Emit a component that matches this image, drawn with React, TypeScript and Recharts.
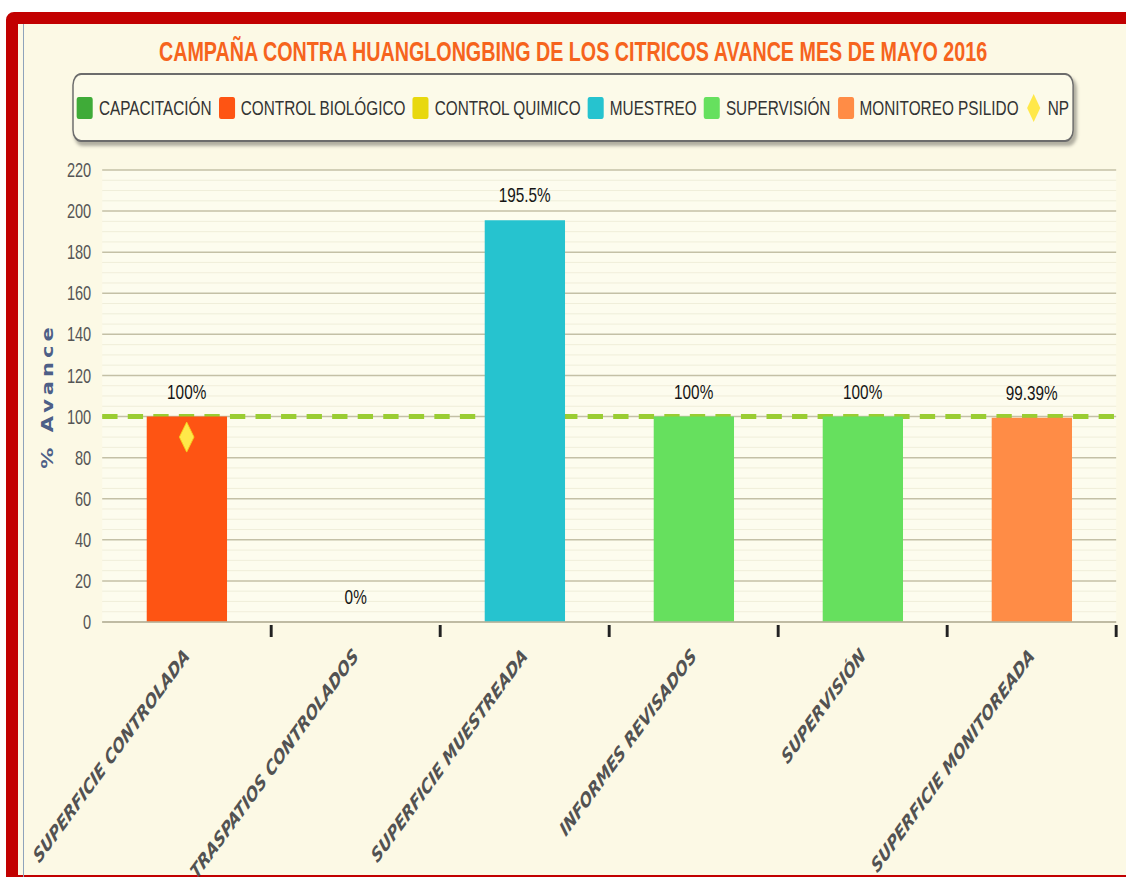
import React from "react";
import {
  ComposedChart,
  Bar,
  Line,
  XAxis,
  YAxis,
  CartesianGrid,
  ReferenceArea,
  LabelList,
  Legend,
  Cell,
} from "recharts";

// --- data ---
const categories = [
  "SUPERFICIE CONTROLADA",
  "TRASPATIOS CONTROLADOS",
  "SUPERFICIE MUESTREADA",
  "INFORMES REVISADOS",
  "SUPERVISIÓN",
  "SUPERFICIE MONITOREADA",
];
const avance = [100, 0, 195.5, 100, 100, 99.39];
const npValues = [90, null, null, null, null, null];
const barColors = ["#fe5413", "#e8d80e", "#26c3cf", "#66e05e", "#66e05e", "#ff8c46"];

const legendNames = [
  "CAPACITACIÓN",
  "CONTROL BIOLÓGICO",
  "CONTROL QUIMICO",
  "MUESTREO",
  "SUPERVISIÓN",
  "MONITOREO PSILIDO",
  "NP",
];
const legendColors = ["#3fab38", "#fe5413", "#e8d80e", "#26c3cf", "#66e05e", "#ff8c46", "#ffe84a"];

const yTicks = [0, 20, 40, 60, 80, 100, 120, 140, 160, 180, 200, 220];
const minorTicks = [
  5, 10, 15, 25, 30, 35, 45, 50, 55, 65, 70, 75, 85, 90, 95, 105, 110, 115,
  125, 130, 135, 145, 150, 155, 165, 170, 175, 185, 190, 195, 205, 210, 215,
];
const metaTicks = [100];
const yMax = 220;

const data = categories.map((name, i) => ({ name, avance: avance[i], np: npValues[i] }));

// the screenshot is squeezed horizontally, so draw wide and squeeze it back
const SQUEEZE = 0.73;
const W = 1543;
const H = 877;

const sans = '"Liberation Sans", Arial, sans-serif';
const verdana = '"DejaVu Sans", Verdana, sans-serif';

// grid rows at chosen values, placed through the y axis scale
const rowsAt = (values: number[]) => ({ yAxis, offset }: any) =>
  values.map((v) =>
    yAxis && typeof yAxis.scale === "function"
      ? yAxis.scale(v)
      : offset.top + offset.height * (1 - v / yMax)
  );

function CategoryTick({ x, y, payload, width, visibleTicksCount }: any) {
  // tick mark on the right edge of each category band
  const edge = x + width / visibleTicksCount / 2;
  const ax = x + 5;
  const ay = y + 35;
  return (
    <g>
      <line x1={edge} x2={edge} y1={y + 3} y2={y + 15} stroke="#222" strokeWidth={4} />
      <text
        x={ax}
        y={ay}
        transform={`rotate(-45, ${ax}, ${ay})`}
        textAnchor="end"
        fill="#525252"
        fontFamily={verdana}
        fontSize={20}
        fontWeight="bold"
        fontStyle="italic"
      >
        {payload.value}
      </text>
    </g>
  );
}

function Diamond({ cx, cy, payload, index }: any) {
  if (payload == null || payload.np == null) return <g key={`np-${index}`} />;
  return (
    <polygon
      key={`np-${index}`}
      points={`${cx},${cy - 15} ${cx + 10},${cy} ${cx},${cy + 15} ${cx - 10},${cy}`}
      fill="#ffe84a"
      stroke="#f3d21a"
      strokeWidth={1}
    />
  );
}

function LegendBox() {
  return (
    <div
      style={{
        boxSizing: "border-box",
        width: "100%",
        height: "100%",
        border: "2px solid #6c6c6c",
        borderRadius: 12,
        background: "#fcfae9",
        boxShadow: "3px 4px 4px rgba(0,0,0,0.3)",
        display: "flex",
        alignItems: "center",
        justifyContent: "center",
        fontFamily: sans,
        fontSize: 21,
        color: "#333",
        whiteSpace: "nowrap",
      }}
    >
      {legendNames.map((n, i) => (
        <span
          key={n}
          style={{ display: "inline-flex", alignItems: "center", marginRight: i < legendNames.length - 1 ? 10 : 0 }}
        >
          {n === "NP" ? (
            <svg width={22} height={30}>
              <polygon points="11,1 20,15 11,29 2,15" fill={legendColors[i]} />
            </svg>
          ) : (
            <span style={{ display: "inline-block", width: 22, height: 22, borderRadius: 3, background: legendColors[i] }} />
          )}
          <span style={{ marginLeft: 8 }}>{n}</span>
        </span>
      ))}
    </div>
  );
}

export default function App() {
  return (
    <div style={{ position: "absolute", left: 0, top: 0, width: 1126, height: 877, overflow: "hidden", background: "#fff" }}>
      {/* red frame */}
      <div
        style={{
          position: "absolute",
          left: 6,
          top: 12,
          width: 1140,
          height: 875,
          boxSizing: "border-box",
          border: "12px solid #c20000",
          borderRadius: 8,
          background: "#fcf9e5",
        }}
      />
      <div style={{ position: "absolute", left: 23, top: 24, width: 1, height: 853, background: "#8fa3bb" }} />

      <div
        style={{
          position: "absolute",
          left: 0,
          top: 0,
          width: W,
          height: H,
          transform: `scaleX(${SQUEEZE})`,
          transformOrigin: "0 0",
        }}
      >
        <div
          style={{
            position: "absolute",
            left: 0,
            top: 39,
            width: 1570,
            textAlign: "center",
            fontFamily: sans,
            fontWeight: "bold",
            fontSize: 27,
            lineHeight: "27px",
            color: "#f6641d",
            whiteSpace: "nowrap",
          }}
        >
          CAMPAÑA CONTRA HUANGLONGBING DE LOS CITRICOS AVANCE MES DE MAYO 2016
        </div>

        <ComposedChart width={W} height={H} data={data} margin={{ top: 170, right: 14, bottom: 55, left: 65 }}>
          <CartesianGrid
            vertical={false}
            stroke="#eeebd7"
            fill="#fdfcee"
            horizontalCoordinatesGenerator={rowsAt(minorTicks)}
          />
          <CartesianGrid vertical={false} stroke="#c4c0a6" strokeWidth={1.5} />
          {/* 100% goal line, kept under the bars */}
          <CartesianGrid
            vertical={false}
            stroke="#9acd32"
            strokeWidth={5}
            strokeDasharray="21 14"
            horizontalCoordinatesGenerator={rowsAt(metaTicks)}
          />
          <XAxis xAxisId="edges" type="number" domain={[0, 6]} allowDataOverflow hide />
          <XAxis
            dataKey="name"
            interval={0}
            axisLine={{ stroke: "#b8b49c", strokeWidth: 1.5 }}
            tickLine={false}
            tickSize={0}
            tickMargin={0}
            height={200}
            tick={<CategoryTick />}
          />
          <YAxis
            domain={[0, yMax]}
            ticks={yTicks}
            axisLine={false}
            tickLine={false}
            width={75}
            tickMargin={9}
            tick={{ fill: "#555", fontSize: 20, fontFamily: sans }}
            label={{
              value: "% Avance",
              angle: -90,
              position: "insideLeft",
              offset: 0,
              textAnchor: "middle",
              fill: "#4d5f87",
              fontSize: 21,
              fontWeight: "bold",
              letterSpacing: 4,
              fontFamily: verdana,
            }}
          />
          <ReferenceArea
            xAxisId="edges"
            x1={0}
            x2={6}
            y1={0}
            y2={yMax}
            fill="none"
            stroke="#bcb8a0"
            strokeWidth={1.5}
          />
          <Legend
            verticalAlign="middle"
            align="center"
            layout="horizontal"
            wrapperStyle={{ top: 73, left: 99, width: 1372, height: 69 }}
            content={() => <LegendBox />}
          />
          <Bar dataKey="avance" barSize={110} isAnimationActive={false}>
            {data.map((d, i) => (
              <Cell key={d.name} fill={barColors[i]} />
            ))}
          </Bar>
          {/* value labels (also for the 0% bar) */}
          <Line
            dataKey="avance"
            stroke="none"
            dot={false}
            activeDot={false}
            legendType="none"
            isAnimationActive={false}
          >
            <LabelList
              dataKey="avance"
              position="top"
              offset={18}
              formatter={(v: any) => `${v}%`}
              fill="#151515"
              fontSize={21}
              fontFamily={sans}
            />
          </Line>
          <Line
            dataKey="np"
            stroke="none"
            dot={<Diamond />}
            activeDot={false}
            legendType="none"
            isAnimationActive={false}
          />
        </ComposedChart>
      </div>
    </div>
  );
}
